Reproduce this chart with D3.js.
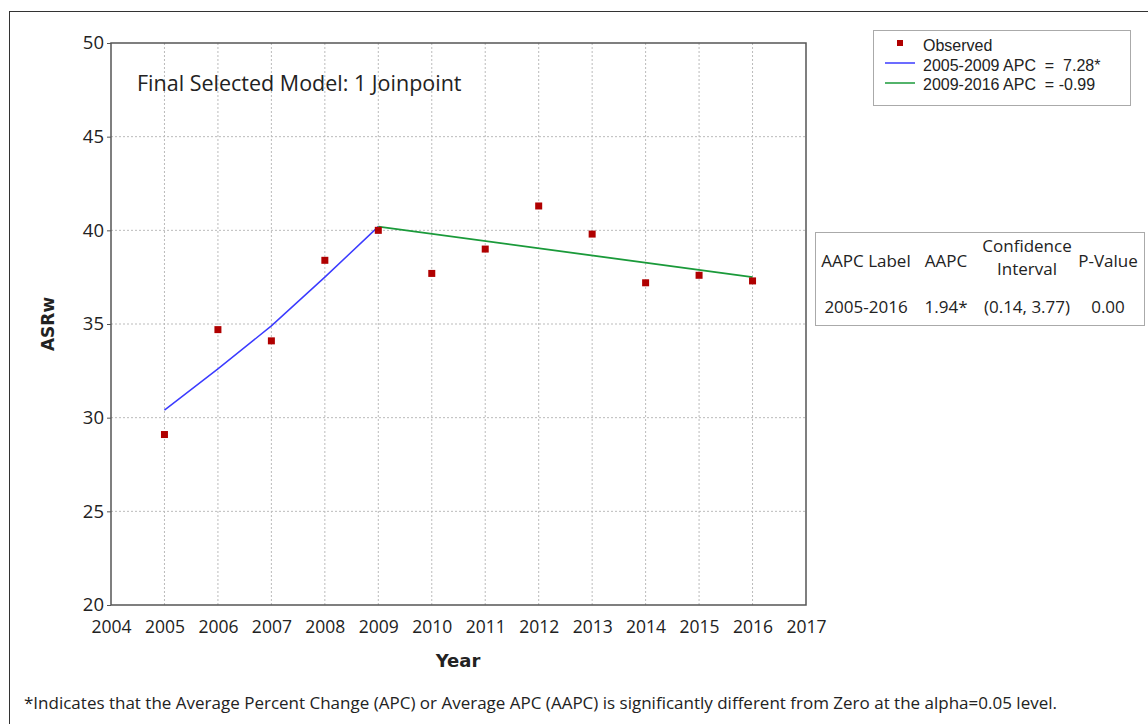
<!DOCTYPE html>
<html>
<head>
<meta charset="utf-8">
<script src="https://cdn.jsdelivr.net/npm/d3@7"></script>
<style>
  body { margin: 0; background: #fff; }
  svg { display: block; }
</style>
</head>
<body>
<script>
// Joinpoint regression chart

const years = [2005, 2006, 2007, 2008, 2009, 2010, 2011, 2012, 2013, 2014, 2015, 2016];
const observed = [29.1, 34.7, 34.1, 38.4, 40.0, 37.7, 39.0, 41.3, 39.8, 37.2, 37.6, 37.3];

// fitted segments
const seg1Years = [2005, 2006, 2007, 2008, 2009];
const seg1Values = [30.4, 32.6, 34.9, 37.5, 40.2];
const seg2Years = [2009, 2016];
const seg2Values = [40.2, 37.5];

const xTicks = [2004, 2005, 2006, 2007, 2008, 2009, 2010, 2011, 2012, 2013, 2014, 2015, 2016, 2017];
const yTicks = [20, 25, 30, 35, 40, 45, 50];

const legendLabels = ["Observed", "2005-2009 APC  =  7.28*", "2009-2016 APC  = -0.99"];
const tableHeaders = [["AAPC Label"], ["AAPC"], ["Confidence", "Interval"], ["P-Value"]];
const tableRow = ["2005-2016", "1.94*", "(0.14, 3.77)", "0.00"];

const width = 1148, height = 724;
const margin = {top: 43, right: 342, bottom: 119, left: 111};
const innerW = width - margin.left - margin.right;
const innerH = height - margin.top - margin.bottom;

const uiFont = "'Open Sans', 'Noto Sans', sans-serif";
const legFont = "'Liberation Sans', Arial, sans-serif";

const svg = d3.select("body").append("svg")
  .attr("width", width)
  .attr("height", height);

// outer frame
svg.append("rect")
  .attr("x", 9.5).attr("y", 11.5)
  .attr("width", 1150).attr("height", 730)
  .attr("fill", "none").attr("stroke", "#333").attr("stroke-width", 1);

const g = svg.append("g").attr("transform", `translate(${margin.left},${margin.top})`);

const x = d3.scaleLinear().domain([2004, 2017]).range([0, innerW]);
const y = d3.scaleLinear().domain([20, 50]).range([innerH, 0]);

// grid
g.selectAll(".vgrid").data(xTicks.slice(1, -1)).join("line")
  .attr("x1", d => x(d)).attr("x2", d => x(d))
  .attr("y1", 0).attr("y2", innerH)
  .attr("stroke", "#bbb").attr("stroke-dasharray", "2,2");
g.selectAll(".hgrid").data(yTicks.slice(1, -1)).join("line")
  .attr("x1", 0).attr("x2", innerW)
  .attr("y1", d => y(d)).attr("y2", d => y(d))
  .attr("stroke", "#bbb").attr("stroke-dasharray", "2,2");

// axes
const xAxis = g.append("g")
  .attr("transform", `translate(0,${innerH})`)
  .call(d3.axisBottom(x).tickValues(xTicks).tickFormat(d3.format("d")).tickSize(0).tickPadding(16));
xAxis.select(".domain").remove();
xAxis.selectAll("text").attr("font-family", uiFont).attr("font-size", 17.5).attr("fill", "#222");

const yAxis = g.append("g")
  .call(d3.axisLeft(y).tickValues(yTicks).tickSize(4).tickPadding(3));
yAxis.select(".domain").remove();
yAxis.selectAll("line").attr("stroke", "#555");
yAxis.selectAll("text").attr("font-family", uiFont).attr("font-size", 18.5).attr("fill", "#222");

// plot frame
g.append("rect")
  .attr("width", innerW).attr("height", innerH)
  .attr("fill", "none").attr("stroke", "#555").attr("stroke-width", 1.5);

// fitted lines
const line = d3.line().x(d => x(d[0])).y(d => y(d[1]));
g.append("path")
  .datum(seg1Years.map((yr, i) => [yr, seg1Values[i]]))
  .attr("d", line).attr("fill", "none").attr("stroke", "#3b3bff").attr("stroke-width", 1.5);
g.append("path")
  .datum(seg2Years.map((yr, i) => [yr, seg2Values[i]]))
  .attr("d", line).attr("fill", "none").attr("stroke", "#1a9a3a").attr("stroke-width", 1.8);

// observed points
g.selectAll(".obs").data(years).join("rect")
  .attr("x", d => x(d) - 3.5)
  .attr("y", (d, i) => y(observed[i]) - 3.5)
  .attr("width", 7).attr("height", 7)
  .attr("fill", "#b00000");

// title inside plot
g.append("text")
  .attr("x", 26).attr("y", 48)
  .attr("font-family", uiFont).attr("font-size", 21.5).attr("fill", "#222")
  .text("Final Selected Model: 1 Joinpoint");

// axis titles
svg.append("text")
  .attr("transform", "translate(54,324) rotate(-90)")
  .attr("text-anchor", "middle")
  .attr("font-family", "'DejaVu Sans', sans-serif").attr("font-weight", "bold")
  .attr("font-size", 17).attr("fill", "#222")
  .text("ASRw");
svg.append("text")
  .attr("x", 458).attr("y", 667)
  .attr("text-anchor", "middle")
  .attr("font-family", "'DejaVu Sans', sans-serif").attr("font-weight", "bold")
  .attr("font-size", 18).attr("fill", "#222")
  .text("Year");

// legend
const leg = svg.append("g").attr("transform", "translate(873,30)");
leg.append("rect")
  .attr("x", 0.5).attr("y", 0.5).attr("width", 257).attr("height", 75)
  .attr("fill", "#fff").attr("stroke", "#aaa");
leg.append("rect").attr("x", 24).attr("y", 10).attr("width", 6).attr("height", 6).attr("fill", "#b00000");
leg.append("line").attr("x1", 12).attr("x2", 42).attr("y1", 33).attr("y2", 33)
  .attr("stroke", "#3b3bff").attr("stroke-width", 1.5);
leg.append("line").attr("x1", 12).attr("x2", 42).attr("y1", 53).attr("y2", 53)
  .attr("stroke", "#1a9a3a").attr("stroke-width", 1.5);
leg.selectAll(".lt").data(legendLabels).join("text")
  .attr("x", 50).attr("y", (d, i) => 21 + i * 19.5)
  .attr("font-family", legFont).attr("font-size", 16).attr("fill", "#222")
  .attr("xml:space", "preserve")
  .style("white-space", "pre")
  .text(d => d);

// AAPC table
const tbl = svg.append("g").attr("transform", "translate(815,232)");
tbl.append("rect")
  .attr("x", 0.5).attr("y", 0.5).attr("width", 329).attr("height", 93)
  .attr("fill", "#fff").attr("stroke", "#aaa");
const colX = [51, 131, 212, 293];
tableHeaders.forEach((lines, c) => {
  lines.forEach((t, k) => {
    tbl.append("text")
      .attr("x", colX[c])
      .attr("y", lines.length === 1 ? 35 : 20 + k * 23)
      .attr("text-anchor", "middle")
      .attr("font-family", uiFont).attr("font-size", 17).attr("fill", "#222")
      .text(t);
  });
});
tbl.selectAll(".cell").data(tableRow).join("text")
  .attr("x", (d, i) => colX[i]).attr("y", 81)
  .attr("text-anchor", "middle")
  .attr("font-family", uiFont).attr("font-size", 17).attr("fill", "#222")
  .text(d => d);

// footnote
svg.append("text")
  .attr("x", 24).attr("y", 709)
  .attr("font-family", uiFont).attr("font-size", 17).attr("fill", "#222")
  .text("*Indicates that the Average Percent Change (APC) or Average APC (AAPC) is significantly different from Zero at the alpha=0.05 level.");
</script>
</body>
</html>
